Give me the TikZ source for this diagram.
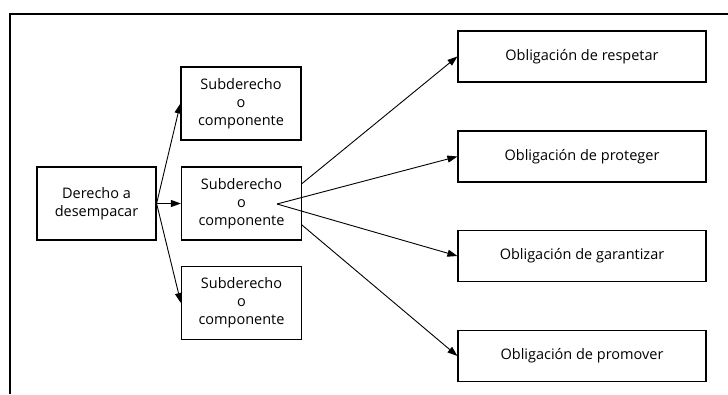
\documentclass[tikz,border=0pt]{standalone}
\usepackage{fontspec}
\setmainfont{Open Sans}
\usetikzlibrary{arrows.meta}
\usetikzlibrary{backgrounds}

\begin{document}
\begin{tikzpicture}[x=1pt,y=-1pt,
    caja/.style={draw,line width=1.2pt,fill=white,align=center,inner sep=0pt,
        font=\fontsize{14.5}{18}\selectfont},
    chica/.style={caja,minimum width=120pt,minimum height=73pt},
    larga/.style={caja,minimum width=248pt,minimum height=51pt},
    flecha/.style={line width=0.9pt,-{Triangle[length=10pt,width=7pt]}}]
                    \useasboundingbox(0,0)rectangle(728,394);
                    \draw[line width=2pt](728,14)--(10,14)--(10,394);
                    \node[chica,minimum width=119pt](derecho) at (96.5,203.5){Derecho a\\desempacar};
                    \node[chica](sub1) at (241,103.5){Subderecho\\o\\componente};
                    \node[chica](sub2) at (241.5,203.5){Subderecho\\o\\componente};
                    \node[chica](sub3) at (241.5,303){Subderecho\\o\\componente};
                    \node[larga](ob1) at (582,56.5){Obligación de respetar};
                    \node[larga](ob2) at (582,156.5){Obligación de proteger};
                    \node[larga](ob3) at (582,256){Obligación de garantizar};
                    \node[larga](ob4) at (582,356){Obligación de promover};
                    \coordinate (abanico) at (277,204);
                    \draw[flecha](derecho.east)--(sub1.west);
                    \draw[flecha](derecho.east)--(sub2.west);
                    \draw[flecha](derecho.east)--(sub3.west);
                    \begin{scope}[on background layer]
                        \draw[flecha](abanico)--(ob1.west);
                        \draw[flecha](abanico)--(ob4.west);
                    \end{scope}
                    \draw[flecha](abanico)--(ob2.west);
                    \draw[flecha](abanico)--(ob3.west);
                \end{tikzpicture}
\end{document}
